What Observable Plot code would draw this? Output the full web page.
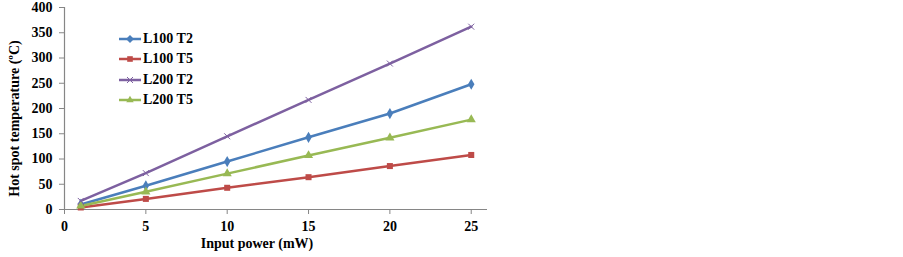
<!DOCTYPE html>
<html><head><meta charset="utf-8">
<script src="https://cdn.jsdelivr.net/npm/d3@7"></script>
<script src="https://cdn.jsdelivr.net/npm/@observablehq/plot@0.6"></script>
<style>
body{margin:0;background:#fff;}
#wrap{position:relative;width:903px;height:257px;}
#legend{position:absolute;left:119px;top:29px;font-family:"Liberation Serif","Times New Roman",serif;font-weight:bold;font-size:14px;color:#000;}
#legend .row{display:flex;align-items:center;height:20.3px;}
#legend svg{margin-right:1px;}
</style>
</head><body>
<div id="wrap"><div id="legend"></div></div>
<script>
const power = [1, 5, 10, 15, 20, 25];
const seriesNames = ["L100 T2", "L100 T5", "L200 T2", "L200 T5"];
const l100t2 = [10, 47, 95, 143, 190, 248];
const l100t5 = [4, 21, 43, 64, 86, 108];
const l200t2 = [17, 72, 145, 217, 289, 362];
const l200t5 = [7, 35, 71, 107, 142, 178];
const xTicks = [0, 5, 10, 15, 20, 25];
const yTicks = [0, 50, 100, 150, 200, 250, 300, 350, 400];
const colors = ["#4A7EBB", "#BE4B48", "#7D60A0", "#98B954"];
const symbols = ["diamond", "square", "times", "triangle"];

const seriesValues = [l100t2, l100t5, l200t2, l200t5];
const data = [];
seriesNames.forEach((s, i) => power.forEach((p, j) => data.push({s, x: p, y: seriesValues[i][j]})));

const axisColor = "#868686";
const chart = Plot.plot({
  width: 903, height: 257,
  marginLeft: 64, marginRight: 416, marginTop: 7, marginBottom: 48,
  x: {domain: [0, 26]},
  y: {domain: [0, 400]},
  color: {domain: seriesNames, range: colors},
  symbol: {domain: seriesNames, range: symbols},
  style: {fontFamily: "'Liberation Serif','Times New Roman',serif", fontWeight: "bold", fontSize: "14px", color: "#000", background: "#fff"},
  marks: [
    Plot.ruleY([0], {stroke: axisColor, strokeWidth: 1.2}),
    Plot.ruleX([0], {stroke: axisColor, strokeWidth: 1.2}),
    Plot.axisX({ticks: xTicks, tickSize: 5, tickPadding: 7, stroke: axisColor, label: null, fill: "#000"}),
    Plot.axisY({ticks: yTicks, tickSize: 5, tickPadding: 7, stroke: axisColor, label: null, fill: "#000"}),
    Plot.line(data, {x: "x", y: "y", z: "s", stroke: "s", strokeWidth: 2.5}),
    Plot.dot(data.filter(d => d.s !== "L200 T2"), {x: "x", y: "y", symbol: "s", fill: "s", r: 3.4}),
    Plot.dot(data.filter(d => d.s === "L200 T2"), {x: "x", y: "y", symbol: "s", stroke: "s", r: 2.8, strokeWidth: 1}),
    Plot.text(["Input power (mW)"], {frameAnchor: "bottom", dy: 38, dx: -19, fill: "#000", fontSize: 14, fontWeight: "bold"}),
    Plot.text(["Hot spot temperature (ºC)"], {frameAnchor: "left", textAnchor: "middle", dx: -50, dy: 10, rotate: -90, fill: "#000", fontSize: 14, fontWeight: "bold"})
  ]
});
const wrap = document.getElementById("wrap");
wrap.insertBefore(chart, wrap.firstChild);

// legend
const legend = document.getElementById("legend");
const symMap = {diamond: d3.symbolDiamond2, square: d3.symbolSquare2, times: d3.symbolTimes, triangle: d3.symbolTriangle2};
seriesNames.forEach((s, i) => {
  const row = document.createElement("div");
  row.className = "row";
  const svg = d3.create("svg").attr("width", 23).attr("height", 12);
  svg.append("line").attr("x1", 0).attr("x2", 22).attr("y1", 6).attr("y2", 6).attr("stroke", colors[i]).attr("stroke-width", 2.5);
  const size = symbols[i] === "times" ? 25 : 40;
  const p = d3.symbol(symMap[symbols[i]], size)();
  const path = svg.append("path").attr("d", p).attr("transform", "translate(11,6)");
  if (symbols[i] === "times") path.attr("fill", "none").attr("stroke", colors[i]).attr("stroke-width", 1);
  else path.attr("fill", colors[i]);
  row.appendChild(svg.node());
  const t = document.createElement("span");
  t.textContent = s;
  row.appendChild(t);
  legend.appendChild(row);
});
</script>
</body></html>
